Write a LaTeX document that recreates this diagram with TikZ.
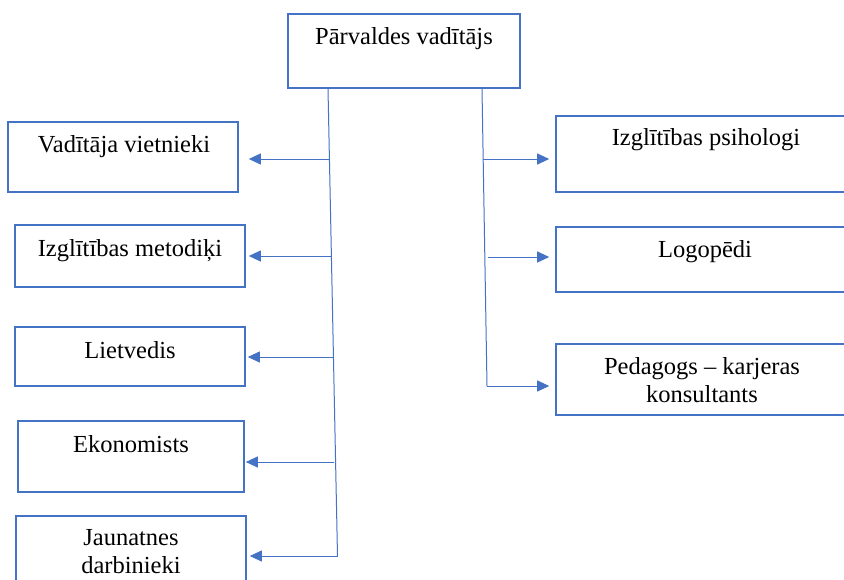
\documentclass[tikz,border=0pt]{standalone}
\usepackage{fontspec}
\setmainfont{Liberation Serif}
\usetikzlibrary{arrows.meta}
\definecolor{boxblue}{HTML}{4472C4}
\begin{document}
\begin{tikzpicture}[x=1pt,y=-1pt,
  box/.style={draw=boxblue, line width=1.6pt, inner sep=0pt, fill=none},
  lbl/.style={anchor=base, inner sep=0pt, font=\fontsize{24.5}{28}\selectfont, align=center, text=black},
  conn/.style={draw=boxblue, line width=1pt},
  arr/.style={conn, -{Triangle[length=12pt,width=11pt]}}]
\useasboundingbox (0,0) rectangle (844,579);
\clip (0,0) rectangle (844,579);
\fill[white] (0,0) rectangle (844,579);
% top box
\node[box, minimum width=232pt, minimum height=74pt] (top) at (404,51) {};
\node[lbl] (ttop) at (404,44) {Pārvaldes vadītājs};
% left boxes
\node[box, minimum width=230pt, minimum height=70pt] (b1) at (123,157) {};
\node[lbl] (t1) at (124,152) {Vadītāja vietnieki};
\node[box, minimum width=230pt, minimum height=62pt] (b2) at (130,256) {};
\node[lbl] (t2) at (130,256) {Izglītības metodiķi};
\node[box, minimum width=230pt, minimum height=59pt] (b3) at (130,356.5) {};
\node[lbl] (t3) at (130,358) {Lietvedis};
\node[box, minimum width=226pt, minimum height=71pt] (b4) at (131,456.5) {};
\node[lbl] (t4) at (131,452) {Ekonomists};
\node[box, minimum width=230pt, minimum height=84pt] (b5) at (131,558) {};
\node[lbl] (t5) at (131,573) {Jaunatnes\\darbinieki};
% right boxes
\node[box, minimum width=296pt, minimum height=76pt] (r1) at (704,154) {};
\node[lbl] (u1) at (706,145) {Izglītības psihologi};
\node[box, minimum width=296pt, minimum height=65pt] (r2) at (704,259.5) {};
\node[lbl] (u2) at (705,257) {Logopēdi};
\node[box, minimum width=296pt, minimum height=71pt] (r3) at (704,379.5) {};
\node[lbl] (u3) at (702,402) {Pedagogs – karjeras\\konsultants};
% trunks
\coordinate (ltop) at ([xshift=-76pt]top.south);
\coordinate (lbot) at (336,556);
\coordinate (rtop) at ([xshift=78pt]top.south);
\coordinate (rbot) at (487,386);
\draw[conn] (ltop) -- ([xshift=1.5pt]lbot);
\draw[conn] (rtop) -- (rbot);
% left branch points
\coordinate (l1) at (329.2,159);
\coordinate (l2) at (330.9,256);
\coordinate (l3) at (332.6,357);
\coordinate (l4) at (334.4,462);
% right branch points
\coordinate (p1) at (482.5,159);
\coordinate (p2) at (488,257);
% arrows
\draw[arr] (l1) -- ([xshift=10pt]b1.east |- l1);
\draw[arr] (l2) -- ([xshift=3pt]b2.east |- l2);
\draw[arr] (l3) -- ([xshift=2pt]b3.east |- l3);
\draw[arr] (l4) -- ([xshift=1pt]b4.east |- l4);
\draw[arr] ([xshift=1.5pt]lbot) -- ([xshift=3pt]b5.east |- lbot);
\draw[arr] (p1) -- ([xshift=-6pt]r1.west |- p1);
\draw[arr] (p2) -- ([xshift=-6pt]r2.west |- p2);
\draw[arr] (rbot) -- ([xshift=-6pt]r3.west |- rbot);
\end{tikzpicture}
\end{document}
